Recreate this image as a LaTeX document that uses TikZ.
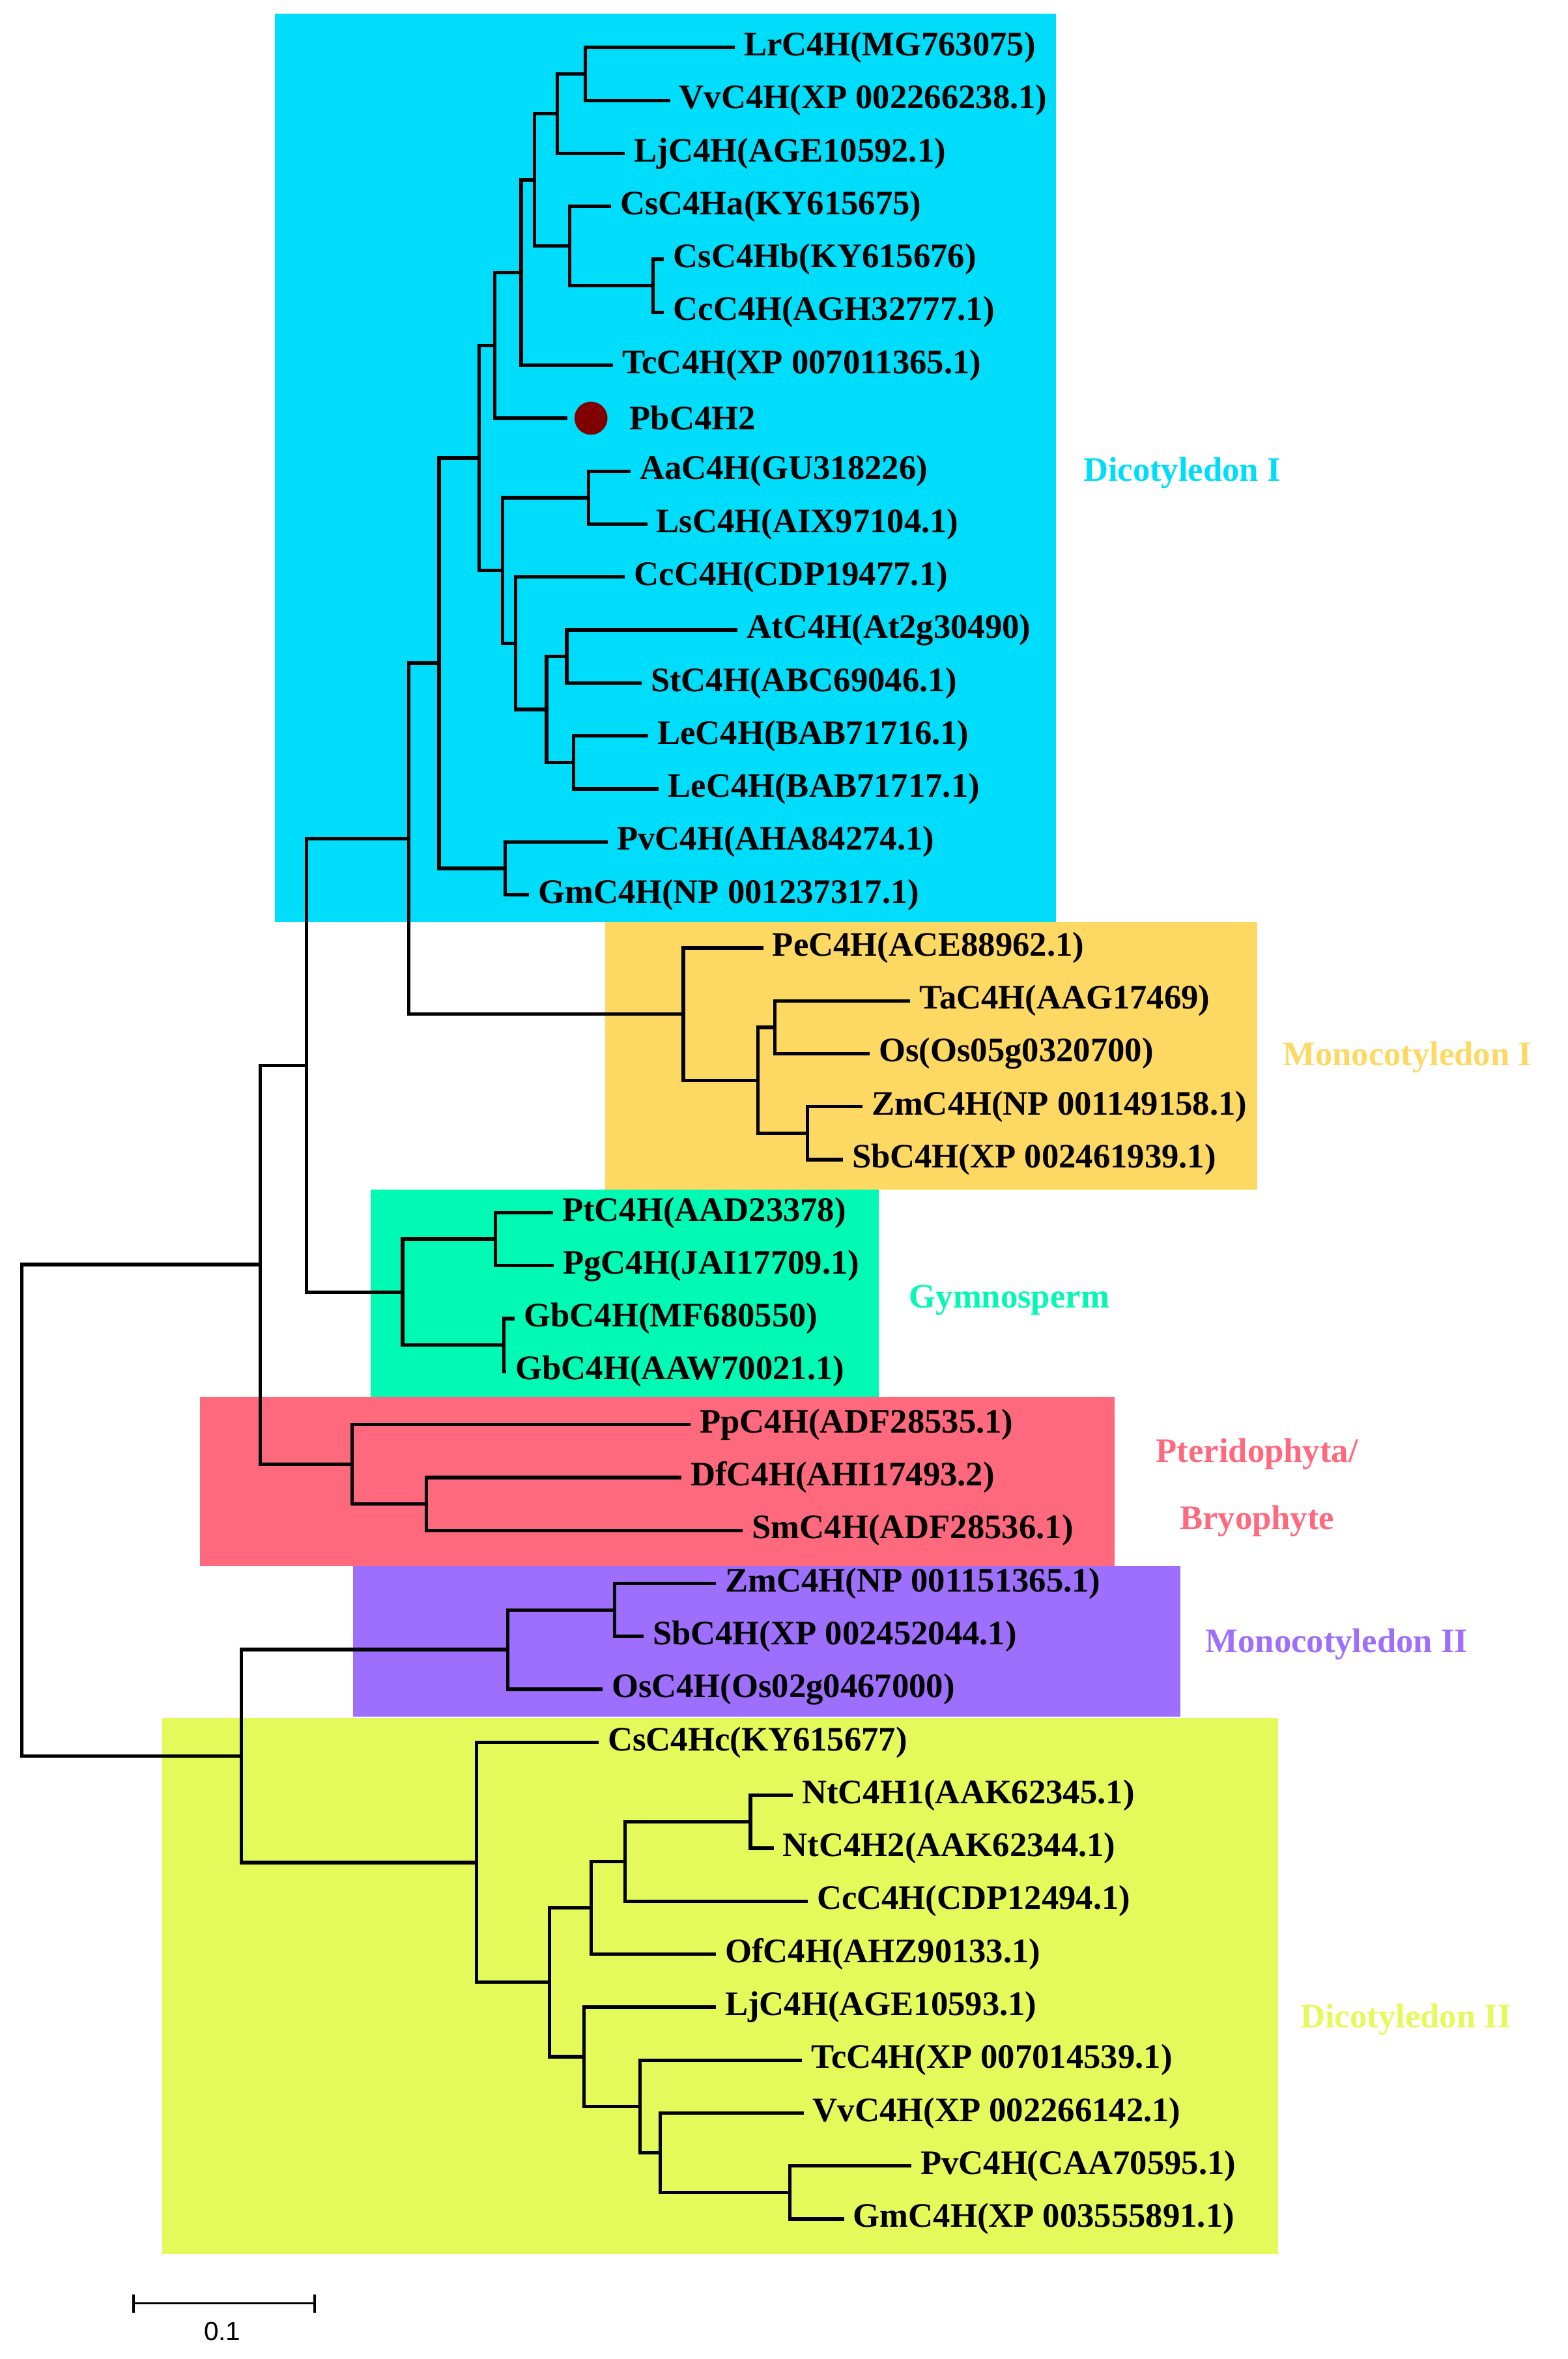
\documentclass[tikz,border=0pt]{standalone}
\usepackage{fontspec}
\setmainfont{Liberation Serif}
\newfontfamily\sansf{Liberation Sans}
\definecolor{cdI}{RGB}{0,221,250}
\definecolor{cmI}{RGB}{253,216,98}
\definecolor{cgy}{RGB}{0,250,180}
\definecolor{cpt}{RGB}{255,105,125}
\definecolor{cmII}{RGB}{158,110,252}
\definecolor{cdII}{RGB}{228,250,90}
\begin{document}
\begin{tikzpicture}[x=0.02cm,y=-0.7054cm,
  br/.style={line width=1.3pt,line cap=rect},
  lab/.style={anchor=west,inner sep=0pt,xshift=0.14cm,font=\fontsize{13}{14}\selectfont\bfseries},
  grp/.style={inner sep=0pt,font=\fontsize{13}{14}\selectfont\bfseries}]
\def\o{0.896}
\useasboundingbox (0,0) rectangle (1044,44.54);
% boxes
\fill[cdI] (183,0.255) rectangle (703,17.41);
\fill[cmI] (403,17.41) rectangle (837,22.455);
\fill[cgy] (247,22.455) rectangle (585,26.37);
\fill[cpt] (133,26.37) rectangle (742,29.57);
\fill[cmII] (235,29.57) rectangle (786,32.41);
\fill[cdII] (108,32.44) rectangle (851,42.56);
% group labels
\node[grp,text=cdI] (gdI) at (787,8.93) {Dicotyledon I};
\node[grp,text=cmI] (gmI) at (937,19.96) {Monocotyledon I};
\node[grp,text=cgy] (ggy) at (672,24.55) {Gymnosperm};
\node[grp,text=cpt] (gpt1) at (837,27.45) {Pteridophyta/};
\node[grp,text=cpt] (gpt2) at (837,28.72) {Bryophyte};
\node[grp,text=cmII] (gmII) at (890,31.05) {Monocotyledon II};
\node[grp,text=cdII] (gdII) at (936,38.13) {Dicotyledon II};
% leaves
\newcommand{\leaf}[4]{\coordinate (l#1) at (#2,{#3+\o}); \node[lab] (t#1) at (l#1) {#4};}
\leaf{0}{488}{0}{LrC4H(MG763075)}
\leaf{1}{445}{1}{VvC4H(XP 002266238.1)}
\leaf{2}{415}{2}{LjC4H(AGE10592.1)}
\leaf{3}{405.6}{3}{CsC4Ha(KY615675)}
\leaf{4}{441}{4}{CsC4Hb(KY615676)}
\leaf{5}{441}{5}{CcC4H(AGH32777.1)}
\leaf{6}{407}{6}{TcC4H(XP 007011365.1)}
\coordinate (l7) at (376.7,{7+\o});
\node[circle,fill={rgb,255:red,128;green,0;blue,0},minimum size=0.44cm,inner sep=0pt] (dot) at (393.5,{7+\o}) {};
\node[lab,xshift=0pt] (t7) at (412,{7+\o}) {PbC4H2};
\leaf{8}{418.7}{8}{AaC4H(GU318226)}
\leaf{9}{429.8}{9}{LsC4H(AIX97104.1)}
\leaf{10}{415}{10}{CcC4H(CDP19477.1)}
\leaf{11}{490}{11}{AtC4H(At2g30490)}
\leaf{12}{426}{12}{StC4H(ABC69046.1)}
\leaf{13}{430.4}{13}{LeC4H(BAB71716.1)}
\leaf{14}{437.5}{14}{LeC4H(BAB71717.1)}
\leaf{15}{403.5}{15}{PvC4H(AHA84274.1)}
\leaf{16}{351}{16}{GmC4H(NP 001237317.1)}
\leaf{17}{507}{17}{PeC4H(ACE88962.1)}
\leaf{18}{605}{18}{TaC4H(AAG17469)}
\leaf{19}{578}{19}{Os(Os05g0320700)}
\leaf{20}{573}{20}{ZmC4H(NP 001149158.1)}
\leaf{21}{560}{21}{SbC4H(XP 002461939.1)}
\leaf{22}{367}{22}{PtC4H(AAD23378)}
\leaf{23}{367.6}{23}{PgC4H(JAI17709.1)}
\leaf{24}{341.7}{24}{GbC4H(MF680550)}
\leaf{25}{336}{25}{GbC4H(AAW70021.1)}
\leaf{26}{458.6}{26}{PpC4H(ADF28535.1)}
\leaf{27}{452.5}{27}{DfC4H(AHI17493.2)}
\leaf{28}{493.5}{28}{SmC4H(ADF28536.1)}
\leaf{29}{475.5}{29}{ZmC4H(NP 001151365.1)}
\leaf{30}{427.3}{30}{SbC4H(XP 002452044.1)}
\leaf{31}{400}{31}{OsC4H(Os02g0467000)}
\leaf{32}{397.5}{32}{CsC4Hc(KY615677)}
\leaf{33}{526.7}{33}{NtC4H1(AAK62345.1)}
\leaf{34}{514}{34}{NtC4H2(AAK62344.1)}
\leaf{35}{536.6}{35}{CcC4H(CDP12494.1)}
\leaf{36}{475.5}{36}{OfC4H(AHZ90133.1)}
\leaf{37}{475.5}{37}{LjC4H(AGE10593.1)}
\leaf{38}{533}{38}{TcC4H(XP 007014539.1)}
\leaf{39}{533.9}{39}{VvC4H(XP 002266142.1)}
\leaf{40}{605.6}{40}{PvC4H(CAA70595.1)}
\leaf{41}{560.8}{41}{GmC4H(XP 003555891.1)}
% internal nodes
\newcommand{\inn}[3]{\coordinate (#1) at (#2,{#3+\o});}
\inn{A}{389.6}{0.5}
\inn{B}{371}{1.25}
\inn{C}{434.8}{4.5}
\inn{D}{379.4}{3.75}
\inn{E}{355.8}{2.5}
\inn{F}{347}{4.25}
\inn{G}{329.4}{5.625}
\inn{H}{392}{8.5}
\inn{I}{377.4}{11.5}
\inn{J}{381.8}{13.5}
\inn{K}{363.9}{12.5}
\inn{L}{343.2}{11.25}
\inn{M}{334.5}{9.875}
\inn{N}{318.9}{7.75}
\inn{O}{336.4}{15.5}
\inn{P}{292.3}{11.625}
\inn{m1}{516}{18.5}
\inn{m2}{537.7}{20.5}
\inn{m3}{504.6}{19.5}
\inn{MI}{455}{18.25}
\inn{Q}{272.3}{14.9375}
\inn{g1}{329.8}{22.5}
\inn{g2}{335.6}{24.5}
\inn{GY}{268}{23.5}
\inn{S}{204}{19.22}
\inn{p1}{284}{27.5}
\inn{PT}{234.5}{26.75}
\inn{T}{173.4}{22.98}
\inn{n1}{409.3}{29.5}
\inn{MII}{338}{30.25}
\inn{d1}{499.7}{33.5}
\inn{d2}{416.3}{34.25}
\inn{d3}{393.5}{35.125}
\inn{d4}{525.8}{40.5}
\inn{d5}{439.5}{39.75}
\inn{d6}{426}{38.875}
\inn{d7}{389}{37.9375}
\inn{d8}{365.9}{36.53}
\inn{DII}{317.2}{34.27}
\inn{U}{160.8}{32.26}
\inn{R}{14.4}{27.62}
% edges
\newcommand{\e}[2]{\draw[br] (#1) |- (#2);}
\e{A}{l0}\e{A}{l1}\e{B}{A}\e{B}{l2}
\e{C}{l4}\e{C}{l5}\e{D}{l3}\e{D}{C}
\e{E}{B}\e{E}{D}\e{F}{E}\e{F}{l6}\e{G}{F}\e{G}{l7}
\e{H}{l8}\e{H}{l9}\e{I}{l11}\e{I}{l12}\e{J}{l13}\e{J}{l14}
\e{K}{I}\e{K}{J}\e{L}{l10}\e{L}{K}\e{M}{H}\e{M}{L}
\e{N}{G}\e{N}{M}\e{O}{l15}\e{O}{l16}\e{P}{N}\e{P}{O}
\e{m1}{l18}\e{m1}{l19}\e{m2}{l20}\e{m2}{l21}\e{m3}{m1}\e{m3}{m2}
\e{MI}{l17}\e{MI}{m3}\e{Q}{P}\e{Q}{MI}
\e{g1}{l22}\e{g1}{l23}\e{g2}{l24}\e{g2}{l25}\e{GY}{g1}\e{GY}{g2}
\e{S}{Q}\e{S}{GY}
\e{p1}{l27}\e{p1}{l28}\e{PT}{l26}\e{PT}{p1}\e{T}{S}\e{T}{PT}
\e{n1}{l29}\e{n1}{l30}\e{MII}{n1}\e{MII}{l31}
\e{d1}{l33}\e{d1}{l34}\e{d2}{d1}\e{d2}{l35}\e{d3}{d2}\e{d3}{l36}
\e{d4}{l40}\e{d4}{l41}\e{d5}{l39}\e{d5}{d4}\e{d6}{l38}\e{d6}{d5}
\e{d7}{l37}\e{d7}{d6}\e{d8}{d3}\e{d8}{d7}
\e{DII}{l32}\e{DII}{d8}\e{U}{MII}\e{U}{DII}
\e{R}{T}\e{R}{U}
% scale bar
\coordinate (s1) at (89,43.49);
\coordinate (s2) at (209.6,43.49);
\draw[line width=0.7pt] (s1) -- (s2);
\draw[line width=0.9pt] ([yshift=0.12cm]s1) -- ([yshift=-0.12cm]s1);
\draw[line width=0.9pt] ([yshift=0.12cm]s2) -- ([yshift=-0.12cm]s2);
\node[font=\sansf\fontsize{10}{11}\selectfont,inner sep=0pt] (sl) at (148,44.02) {0.1};
\end{tikzpicture}
\end{document}
